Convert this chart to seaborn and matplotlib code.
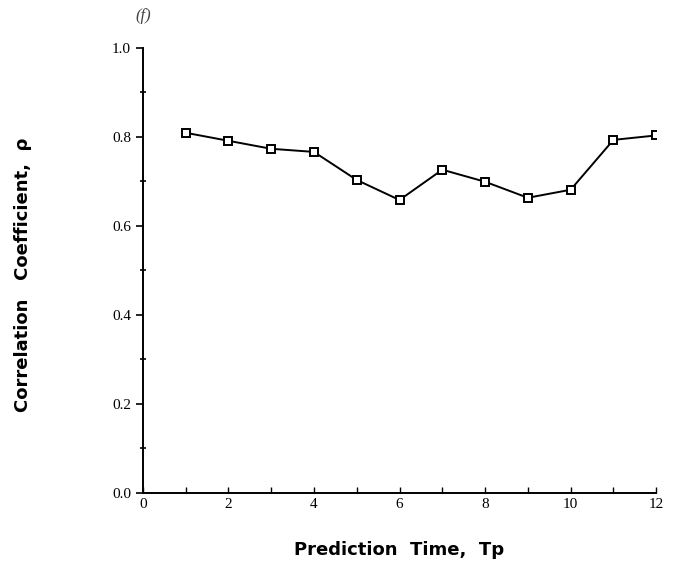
import matplotlib
matplotlib.use("Agg")
import matplotlib.pyplot as plt
from matplotlib.ticker import MultipleLocator
import seaborn as sns
import pandas as pd

prediction_time = [1, 2, 3, 4, 5, 6, 7, 8, 9, 10, 11, 12]
correlation = [0.809, 0.791, 0.773, 0.766, 0.703, 0.658, 0.726, 0.699, 0.663, 0.681, 0.793, 0.803]
x_ticks = [0, 2, 4, 6, 8, 10, 12]
y_ticks = [0.0, 0.2, 0.4, 0.6, 0.8, 1.0]

df = pd.DataFrame({"Tp": prediction_time, "rho": correlation})

sns.set_style("ticks")
plt.rcParams['font.family'] = ['DejaVu Sans']
plt.rcParams['text.color'] = 'black'
plt.rcParams['axes.labelcolor'] = 'black'
plt.rcParams['xtick.color'] = 'black'
plt.rcParams['ytick.color'] = 'black'

fig = plt.figure(figsize=(6.8, 5.82), dpi=100)
ax = fig.add_axes([0.210, 0.153, 0.755, 0.765])

sns.lineplot(data=df, x="Tp", y="rho", ax=ax, color="black", linewidth=1.4,
             marker="s", markersize=6, markerfacecolor="white",
             markeredgecolor="black", markeredgewidth=1.4)

ax.set_xlim(0, 12)
ax.set_ylim(0, 1.0)
ax.set_xticks(x_ticks)
ax.set_yticks(y_ticks)
ax.set_xticklabels([str(v) for v in x_ticks], family="Liberation Serif", fontsize=11)
ax.set_yticklabels([f"{v:.1f}" for v in y_ticks], family="Liberation Serif", fontsize=11)
ax.yaxis.set_minor_locator(MultipleLocator(0.1))
ax.xaxis.set_minor_locator(MultipleLocator(1))
ax.tick_params(axis="y", which="major", direction="out", length=5, width=1.2, color="black")
ax.tick_params(axis="y", which="minor", direction="inout", length=4, width=1.2, color="black")
ax.tick_params(axis="x", which="both", direction="in", length=4, width=1.0, color="black")

for s in ["left", "bottom"]:
    ax.spines[s].set_linewidth(1.4)
    ax.spines[s].set_color("black")
sns.despine(ax=ax)

ax.set_xlabel("Prediction  Time,  Tp", fontsize=13, fontweight="bold", labelpad=22)
ax.set_ylabel("Correlation   Coefficient,  ρ", fontsize=13, fontweight="bold")
ax.yaxis.set_label_coords(-0.215, 0.49)

fig.text(0.21, 0.972, "(f)", fontsize=12, style="italic", ha="center", va="center",
         family="Liberation Serif", color="#444444")

fig.savefig("out.png", dpi=100)
